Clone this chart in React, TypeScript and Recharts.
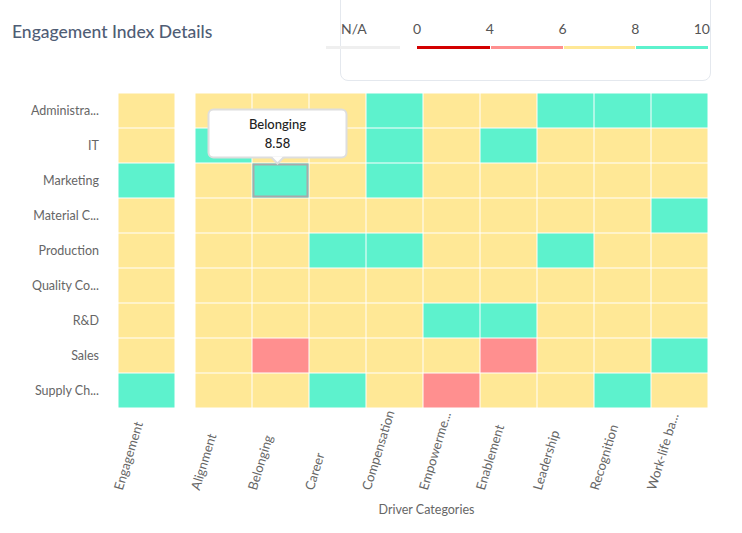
import React from 'react'
import { ScatterChart, Scatter, XAxis, YAxis, Label } from 'recharts'

// rows (departments) as shown on the axis
const departments = [
  'Administra...',
  'IT',
  'Marketing',
  'Material C...',
  'Production',
  'Quality Co...',
  'R&D',
  'Sales',
  'Supply Ch...',
]

const drivers = [
  'Alignment',
  'Belonging',
  'Career',
  'Compensation',
  'Empowerme...',
  'Enablement',
  'Leadership',
  'Recognition',
  'Work-life ba...',
]

// engagement score per department
const engagementScores = [7.6, 7.7, 8.1, 7.2, 7.5, 7.3, 7.6, 7.0, 8.1]

// driver scores per department, in the order of `drivers`
const administrationScores = [7.4, 7.9, 7.1, 8.3, 7.5, 7.8, 8.4, 8.2, 8.1]
const itScores = [8.2, 7.9, 7.3, 8.5, 7.6, 8.1, 7.5, 7.4, 7.2]
const marketingScores = [7.8, 8.58, 7.4, 8.3, 7.7, 7.9, 7.6, 7.5, 7.3]
const materialScores = [7.3, 7.5, 6.9, 7.2, 7.1, 7.4, 7.3, 7.0, 8.2]
const productionScores = [7.6, 7.7, 8.1, 8.2, 7.3, 7.6, 8.3, 7.4, 7.5]
const qualityScores = [7.2, 7.4, 6.8, 7.1, 7.0, 7.3, 7.2, 6.9, 7.1]
const rndScores = [7.5, 7.8, 7.2, 7.4, 8.1, 8.2, 7.6, 7.3, 7.4]
const salesScores = [6.9, 5.8, 6.7, 6.8, 6.6, 5.9, 7.0, 6.7, 8.1]
const supplyScores = [7.4, 7.6, 8.2, 7.3, 5.7, 7.2, 7.5, 8.3, 7.1]

const driverScores = [
  administrationScores,
  itScores,
  marketingScores,
  materialScores,
  productionScores,
  qualityScores,
  rndScores,
  salesScores,
  supplyScores,
]

// legend / colour scale
const legendStops = [0, 4, 6, 8, 10]
const legendColors = ['#D30000', '#FF8F8F', '#FFE896', '#5DF2CD']
const NA_COLOR = '#EFEFEF'

// the cell the tooltip is shown for
const hoveredDept = 'Marketing'
const hoveredDriver = 'Belonging'

const CELL_W = 57
const ROWS_H = 315
const CELL_H = ROWS_H / departments.length
const FONT = 'Lato, "Open Sans", sans-serif'

const colorFor = (v: number | null) => {
  if (v == null) return NA_COLOR
  for (let i = legendStops.length - 2; i >= 0; i--) {
    if (v >= legendStops[i]) return legendColors[i]
  }
  return legendColors[0]
}

type Point = { x: number; y: number; value: number; label: string; dept: string }

const engagementData: Point[] = engagementScores.map((v, i) => ({
  x: 0,
  y: i,
  value: v,
  label: 'Engagement',
  dept: departments[i],
}))

const driverData: Point[] = []
driverScores.forEach((row, yi) => {
  row.forEach((v, xi) => {
    driverData.push({ x: xi, y: yi, value: v, label: drivers[xi], dept: departments[yi] })
  })
})

const hoveredData = driverData.filter((d) => d.dept === hoveredDept && d.label === hoveredDriver)

const HeatCell = (props: any) => {
  const { cx, cy, payload } = props
  const hovered = payload.dept === hoveredDept && payload.label === hoveredDriver
  return (
    <g>
      <rect
        x={cx - CELL_W / 2 + 0.5}
        y={cy - CELL_H / 2 + 0.5}
        width={CELL_W - 1}
        height={CELL_H - 1}
        fill={colorFor(payload.value)}
      />
      {hovered && (
        <rect
          x={cx - CELL_W / 2 + 1.5}
          y={cy - CELL_H / 2 + 1.5}
          width={CELL_W - 3}
          height={CELL_H - 3}
          fill="none"
          stroke="#A9A9A9"
          strokeWidth={2}
        />
      )}
    </g>
  )
}

const TooltipBox = (props: any) => {
  const { cx, cy, payload } = props
  const w = 138
  const h = 48
  const left = cx - 3 - w / 2
  const top = cy - 71
  const tipX = cx - 3
  return (
    <g>
      <rect x={left} y={top} width={w} height={h} rx={5} fill="#fff" stroke="#DEDEDE" strokeWidth={2} />
      <path
        d={`M${tipX - 6},${top + h - 1} L${tipX},${top + h + 6} L${tipX + 6},${top + h - 1} Z`}
        fill="#fff"
      />
      <path
        d={`M${tipX - 6},${top + h} L${tipX},${top + h + 6} L${tipX + 6},${top + h}`}
        fill="none"
        stroke="#DEDEDE"
        strokeWidth={2}
      />
      <text x={tipX} y={top + 19} textAnchor="middle" fontSize={13} fontWeight={500} fill="#222" fontFamily={FONT}>
        {payload.label}
      </text>
      <text x={tipX} y={top + 38} textAnchor="middle" fontSize={13} fontWeight={500} fill="#222" fontFamily={FONT}>
        {payload.value.toFixed(2)}
      </text>
    </g>
  )
}

const makeTick = (names: string[]) => (props: any) => {
  const { x, y, payload } = props
  const tx = x - 24
  const ty = y + 83
  return (
    <text
      x={tx}
      y={ty}
      textAnchor="start"
      fontSize={13}
      fill="#666"
      fontFamily={FONT}
      transform={`rotate(-73, ${tx}, ${ty})`}
    >
      {names[payload.value]}
    </text>
  )
}

const LegendBar = () => {
  const x0 = 417
  const x1 = 708
  const seg = (x1 - x0) / legendColors.length
  return (
    <>
      <div
        style={{
          position: 'absolute',
          left: 340,
          top: -10,
          width: 371,
          height: 91,
          border: '1.5px solid #E4E8EE',
          borderRadius: 8,
          boxSizing: 'border-box',
        }}
      />
      <span style={{ position: 'absolute', left: 341, top: 20, fontSize: 14, color: '#555' }}>N/A</span>
      <div style={{ position: 'absolute', left: 326, top: 46, width: 74, height: 3, background: NA_COLOR }} />
      {legendColors.map((c, i) => (
        <div
          key={c}
          style={{
            position: 'absolute',
            left: x0 + i * seg + (i ? 1 : 0),
            top: 46,
            width: seg - (i ? 1 : 0),
            height: 3,
            background: c,
          }}
        />
      ))}
      {legendStops.map((s, i) => {
        const last = i === legendStops.length - 1
        return (
          <span
            key={s}
            style={{
              position: 'absolute',
              left: last ? undefined : x0 + i * seg - 20,
              right: last ? 742 - 710 : undefined,
              width: last ? undefined : 40,
              textAlign: 'center',
              top: 20,
              fontSize: 14,
              color: '#555',
            }}
          >
            {s}
          </span>
        )
      })}
    </>
  )
}

export default function App() {
  return (
    <div
      style={{
        position: 'absolute',
        left: 0,
        top: 0,
        width: 742,
        height: 533,
        background: '#fff',
        fontFamily: FONT,
        overflow: 'hidden',
      }}
    >
      <div style={{ position: 'absolute', left: 12, top: 21, fontSize: 17.5, color: '#4F5D75', fontWeight: 500 }}>
        Engagement Index Details
      </div>
      <LegendBar />

      <div style={{ position: 'absolute', left: 0, top: 0 }}>
        <ScatterChart width={176} height={533} margin={{ top: 93, right: 1, bottom: 0, left: 0 }}>
          <XAxis
            type="number"
            dataKey="x"
            domain={[-0.5, 0.5]}
            ticks={[0]}
            height={125}
            axisLine={false}
            tickLine={false}
            tickSize={0}
            tickMargin={0}
            interval={0}
            tick={makeTick(['Engagement'])}
          />
          <YAxis
            type="number"
            dataKey="y"
            domain={[-0.5, departments.length - 0.5]}
            reversed
            ticks={departments.map((_, i) => i)}
            tickFormatter={(i: number) => departments[i]}
            width={118}
            axisLine={false}
            tickLine={false}
            tickSize={0}
            tickMargin={19}
            interval={0}
            tick={{ fill: '#666', fontSize: 12.5, fontFamily: FONT }}
          />
          <Scatter data={engagementData} shape={HeatCell} isAnimationActive={false} />
        </ScatterChart>
      </div>

      <div style={{ position: 'absolute', left: 176, top: 0 }}>
        <ScatterChart width={566} height={533} margin={{ top: 93, right: 34, bottom: 0, left: 19 }}>
          <XAxis
            type="number"
            dataKey="x"
            domain={[-0.5, drivers.length - 0.5]}
            ticks={drivers.map((_, i) => i)}
            height={125}
            axisLine={false}
            tickLine={false}
            tickSize={0}
            tickMargin={0}
            interval={0}
            tick={makeTick(drivers)}
          >
            <Label
              value="Driver Categories"
              position="insideBottom"
              offset={19}
              dx={-25}
              fill="#666"
              fontSize={12.5}
              fontFamily={FONT}
            />
          </XAxis>
          <YAxis
            type="number"
            dataKey="y"
            domain={[-0.5, departments.length - 0.5]}
            reversed
            hide
            width={0}
          />
          <Scatter data={driverData} shape={HeatCell} isAnimationActive={false} />
          <Scatter data={hoveredData} shape={TooltipBox} isAnimationActive={false} />
        </ScatterChart>
      </div>
    </div>
  )
}
